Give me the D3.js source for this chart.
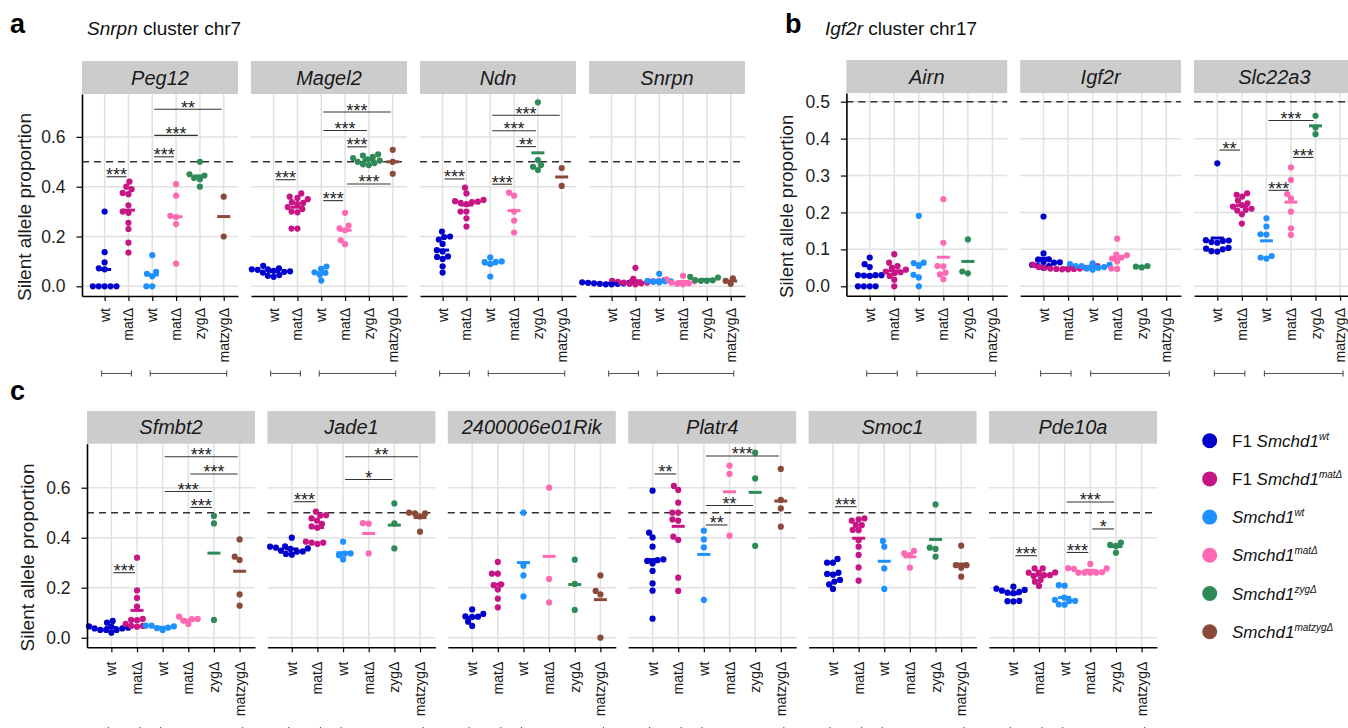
<!DOCTYPE html>
<html><head><meta charset="utf-8">
<script src="https://cdn.jsdelivr.net/npm/d3@7"></script>
<style>
body{margin:0;background:#fff}
svg{display:block}
text{font-family:"Liberation Sans",Arial,Helvetica,sans-serif}
</style></head>
<body><svg id="chart" width="1348" height="728"></svg>
<script>
// ---------------- DATA ----------------
const categories = ["wt", "matΔ", "wt", "matΔ", "zygΔ", "matzygΔ"];
const groupColors = ["#0000CD", "#C71585", "#1E90FF", "#FF69B4", "#2E8B57", "#8B4A39"];
const legendPrefix = ["F1 ", "F1 ", "", "", "", ""];
const legendSup = ["wt", "matΔ", "wt", "matΔ", "zygΔ", "matzygΔ"];
const ticksAC = [0, 0.2, 0.4, 0.6];
const ticksB = [0, 0.1, 0.2, 0.3, 0.4, 0.5];

const genesA = ["Peg12", "Magel2", "Ndn", "Snrpn"];
const genesB = ["Airn", "Igf2r", "Slc22a3"];
const genesC = ["Sfmbt2", "Jade1", "2400006e01Rik", "Platr4", "Smoc1", "Pde10a"];

// silent allele proportion per group: [F1 wt, F1 matΔ, wt, matΔ, zygΔ, matzygΔ]
const peg12 = [
  [0.30, 0.137, 0.096, 0.072, 0.068, 0, 0, 0, 0, 0],
  [0.42, 0.40, 0.39, 0.375, 0.37, 0.325, 0.30, 0.295, 0.255, 0.23, 0.175, 0.135],
  [0.125, 0.058, 0.05, 0.04, 0, 0],
  [0.41, 0.364, 0.283, 0.278, 0.25, 0.091],
  [0.50, 0.45, 0.445, 0.435, 0.43, 0.40],
  [0.36, 0.20]
];
const magel2 = [
  [0.072, 0.068, 0.066, 0.082, 0.06, 0.058, 0.045, 0.038, 0.042, 0.055, 0.062, 0.068],
  [0.373, 0.36, 0.355, 0.35, 0.338, 0.335, 0.33, 0.318, 0.31, 0.30, 0.297, 0.232, 0.232],
  [0.079, 0.07, 0.056, 0.054, 0.046, 0.023],
  [0.295, 0.244, 0.233, 0.225, 0.185, 0.169],
  [0.53, 0.525, 0.52, 0.515, 0.51, 0.505, 0.50, 0.495, 0.49, 0.487],
  [0.548, 0.50, 0.452]
];
const ndn = [
  [0.22, 0.20, 0.198, 0.188, 0.17, 0.145, 0.14, 0.12, 0.118, 0.11, 0.08, 0.055],
  [0.396, 0.373, 0.347, 0.342, 0.34, 0.338, 0.335, 0.33, 0.30, 0.30, 0.273, 0.24],
  [0.116, 0.10, 0.098, 0.097, 0.09, 0.039],
  [0.376, 0.364, 0.30, 0.264, 0.216],
  [0.739, 0.507, 0.487, 0.48, 0.467],
  [0.475, 0.403]
];
const snrpn = [
  [0.016, 0.014, 0.012, 0.01, 0.008, 0.008, 0.01, 0.012, 0.014, 0.015],
  [0.074, 0.03, 0.025, 0.022, 0.02, 0.018, 0.015, 0.012, 0.01, 0.008, 0.015, 0.02],
  [0.05, 0.022, 0.02, 0.018, 0.016, 0.02],
  [0.042, 0.028, 0.02, 0.015, 0.01, 0.008, 0.012],
  [0.038, 0.035, 0.025, 0.022, 0.022, 0.024],
  [0.032, 0.022, 0.01]
];
const airn = [
  [0.078, 0.06, 0.052, 0.03, 0.03, 0.029, 0.028, 0.03, 0, 0, 0, 0],
  [0.087, 0.064, 0.055, 0.05, 0.045, 0.04, 0.038, 0.036, 0.028, 0.018, 0],
  [0.191, 0.064, 0.063, 0.055, 0.031, 0.024, 0],
  [0.236, 0.118, 0.055, 0.054, 0.037, 0.032, 0.019],
  [0.127, 0.04, 0.035],
  []
];
const igf2r = [
  [0.189, 0.089, 0.073, 0.072, 0.066, 0.065, 0.064, 0.058, 0.055, 0.05, 0.055],
  [0.058, 0.055, 0.052, 0.05, 0.048, 0.047, 0.046, 0.046, 0.047, 0.048, 0.05, 0.052],
  [0.062, 0.06, 0.058, 0.055, 0.052, 0.05, 0.045, 0.048, 0.055],
  [0.129, 0.086, 0.084, 0.078, 0.075, 0.067, 0.048, 0.047],
  [0.055, 0.053, 0.051],
  []
];
const slc22a3 = [
  [0.333, 0.125, 0.124, 0.123, 0.12, 0.118, 0.104, 0.102, 0.1, 0.095, 0.094],
  [0.252, 0.248, 0.243, 0.232, 0.225, 0.22, 0.216, 0.21, 0.207, 0.205, 0.195, 0.17],
  [0.184, 0.162, 0.141, 0.14, 0.082, 0.078, 0.075],
  [0.322, 0.288, 0.25, 0.238, 0.202, 0.157, 0.139],
  [0.462, 0.43, 0.412],
  []
];
const sfmbt2 = [
  [0.044, 0.037, 0.031, 0.031, 0.06, 0.02, 0.067, 0.031, 0.037, 0.04, 0.045],
  [0.32, 0.189, 0.159, 0.124, 0.075, 0.055, 0.047, 0.044, 0.047, 0.071, 0.07],
  [0.048, 0.045, 0.031, 0.04, 0.048, 0.038],
  [0.084, 0.075, 0.074, 0.055, 0.068],
  [0.487, 0.457, 0.071],
  [0.393, 0.324, 0.311, 0.173, 0.128]
];
const jade1 = [
  [0.40, 0.364, 0.357, 0.344, 0.365, 0.345, 0.332, 0.348, 0.335, 0.355, 0.36],
  [0.504, 0.49, 0.488, 0.477, 0.468, 0.455, 0.445, 0.44, 0.384, 0.38, 0.375, 0.38],
  [0.384, 0.337, 0.336, 0.33, 0.313],
  [0.458, 0.456, 0.337],
  [0.537, 0.457, 0.357],
  [0.50, 0.497, 0.497, 0.485, 0.424]
];
const rik = [
  [0.113, 0.095, 0.085, 0.084, 0.083, 0.064, 0.047],
  [0.303, 0.256, 0.256, 0.213, 0.21, 0.193, 0.156, 0.121],
  [0.50, 0.288, 0.249, 0.165],
  [0.60, 0.235, 0.141],
  [0.312, 0.215, 0.111],
  [0.249, 0.187, 0.173, 0]
];
const platr4 = [
  [0.588, 0.42, 0.401, 0.364, 0.313, 0.31, 0.307, 0.297, 0.267, 0.217, 0.188, 0.076],
  [0.607, 0.591, 0.54, 0.50, 0.50, 0.473, 0.468, 0.404, 0.391, 0.24, 0.187],
  [0.428, 0.393, 0.361, 0.151],
  [0.688, 0.655, 0.408],
  [0.74, 0.637, 0.367],
  [0.675, 0.551, 0.517, 0.444]
];
const smoc1 = [
  [0.315, 0.30, 0.30, 0.26, 0.255, 0.252, 0.231, 0.224, 0.213, 0.195],
  [0.477, 0.473, 0.468, 0.451, 0.45, 0.431, 0.43, 0.39, 0.364, 0.331, 0.281, 0.228],
  [0.387, 0.364, 0.277, 0.195],
  [0.347, 0.337, 0.33, 0.28],
  [0.533, 0.36, 0.355, 0.324],
  [0.368, 0.29, 0.29, 0.28, 0.244]
];
const pde10a = [
  [0.204, 0.191, 0.183, 0.178, 0.18, 0.188, 0.196, 0.147, 0.145, 0.146],
  [0.277, 0.277, 0.261, 0.26, 0.26, 0.25, 0.247, 0.231, 0.224, 0.207, 0.25],
  [0.208, 0.21, 0.147, 0.147, 0.151, 0.132, 0.133, 0.16],
  [0.295, 0.278, 0.277, 0.275, 0.262, 0.26, 0.26, 0.26, 0.26],
  [0.38, 0.371, 0.367, 0.34],
  []
];

// significance bars: [group from, group to, bar height, label]
const peg12Sig = [[0,1,0.44,"***"],[2,3,0.52,"***"],[2,4,0.606,"***"],[2,5,0.711,"**"]];
const magel2Sig = [[0,1,0.428,"***"],[2,3,0.344,"***"],[3,4,0.56,"***"],[2,4,0.626,"***"],[2,5,0.70,"***"],[3,5,0.411,"***"]];
const ndnSig = [[0,1,0.431,"***"],[2,3,0.41,"***"],[3,4,0.561,"**"],[2,4,0.625,"***"],[2,5,0.687,"***"]];
const snrpnSig = [];
const airnSig = [];
const igf2rSig = [];
const slc22a3Sig = [[0,1,0.369,"**"],[2,3,0.26,"***"],[3,4,0.349,"***"],[2,4,0.449,"***"]];
const sfmbt2Sig = [[0,1,0.26,"***"],[3,4,0.521,"***"],[2,4,0.585,"***"],[3,5,0.655,"***"],[2,5,0.724,"***"]];
const jade1Sig = [[0,1,0.544,"***"],[2,4,0.633,"*"],[2,5,0.724,"**"]];
const rikSig = [];
const platr4Sig = [[0,1,0.655,"**"],[2,3,0.451,"**"],[2,4,0.529,"**"],[2,5,0.727,"***"]];
const smoc1Sig = [[0,1,0.524,"***"]];
const pde10aSig = [[0,1,0.328,"***"],[2,3,0.341,"***"],[3,4,0.435,"*"],[2,4,0.543,"***"]];

// ---------------- DRAWING ----------------
const svg = d3.select("#chart");
const FONT = '"Liberation Sans",Arial,Helvetica,sans-serif';

function swarm(values, yScale, d) {
  const pts = values.map(v => ({v, py: yScale(v), dx: 0}));
  const order = pts.slice().sort((a, b) => a.v - b.v);
  const placed = [];
  for (const p of order) {
    let cands = [0];
    for (const q of placed) {
      const dy = p.py - q.py;
      if (Math.abs(dy) < d) {
        const off = Math.sqrt(d * d - dy * dy);
        cands.push(q.dx + off, q.dx - off);
      }
    }
    cands = cands.filter(c => placed.every(q => (c - q.dx) ** 2 + (p.py - q.py) ** 2 >= d * d - 1e-6));
    cands.sort((a, b) => Math.abs(a) - Math.abs(b) || a - b);
    p.dx = cands[0];
    placed.push(p);
  }
  return pts;
}

function drawPanel(cfg) {
  const y = d3.scaleLinear().domain(cfg.domain).range([cfg.plotBottom, cfg.plotTop]);
  cfg.genes.forEach((gene, fi) => {
    const x0 = cfg.x0s[fi], w = cfg.width;
    const x = d3.scaleLinear().domain([-0.95, 5.6]).range([x0, x0 + w]);
    const g = svg.append("g");
    const data = cfg.data[fi];

    // grid
    g.selectAll(".hg").data(cfg.ticks).join("line")
      .attr("x1", x0).attr("x2", x0 + w)
      .attr("y1", d => y(d)).attr("y2", d => y(d))
      .attr("stroke", "#e1e1e1").attr("stroke-width", 1.5);
    g.selectAll(".vg").data(d3.range(6)).join("line")
      .attr("x1", d => x(d)).attr("x2", d => x(d))
      .attr("y1", cfg.plotTop).attr("y2", cfg.plotBottom)
      .attr("stroke", "#e1e1e1").attr("stroke-width", 1.5);

    // dashed 0.5
    g.append("line").attr("x1", x0).attr("x2", x0 + w)
      .attr("y1", y(0.5)).attr("y2", y(0.5))
      .attr("stroke", "#333").attr("stroke-width", 1.5).attr("stroke-dasharray", "7,5");

    // strip
    g.append("rect").attr("x", x0).attr("y", cfg.stripTop)
      .attr("width", w).attr("height", cfg.plotTop - cfg.stripTop).attr("fill", "#cccccc");
    g.append("text").attr("x", x0 + w / 2).attr("y", (cfg.stripTop + cfg.plotTop) / 2 + 7)
      .attr("text-anchor", "middle").attr("font-size", 20).attr("font-style", "italic")
      .attr("fill", "#1a1a1a").text(gene);

    // points
    data.forEach((vals, k) => {
      const pts = swarm(vals, y, 5.9);
      g.selectAll(null).data(pts).join("circle")
        .attr("cx", p => x(k) + p.dx).attr("cy", p => p.py).attr("r", 3.1)
        .attr("fill", groupColors[k]);
    });
    data.forEach((vals, k) => {
      if (!vals.length) return;
      const m = d3.mean(vals);
      g.append("line").attr("x1", x(k) - 6.5).attr("x2", x(k) + 6.5)
        .attr("y1", y(m)).attr("y2", y(m))
        .attr("stroke", groupColors[k]).attr("stroke-width", 3);
    });

    // significance bars
    cfg.sigs[fi].forEach(s => {
      const xa = x(s[0]) + 2, xb = x(s[1]) - 2;
      g.append("line").attr("x1", xa).attr("x2", xb).attr("y1", y(s[2])).attr("y2", y(s[2]))
        .attr("stroke", "#333").attr("stroke-width", 1.1);
      g.append("text").attr("x", (xa + xb) / 2).attr("y", y(s[2]) + 4.5)
        .attr("text-anchor", "middle").attr("font-size", 18).attr("fill", "#222").text(s[3]);
    });

    // bottom axis
    const ax = g.append("g").attr("transform", `translate(0,${cfg.plotBottom})`)
      .call(d3.axisBottom(x).tickValues(d3.range(6)).tickSize(5).tickSizeOuter(0)
        .tickFormat(i => categories[i]));
    ax.select(".domain").attr("stroke", "#000").attr("stroke-width", 1.6);
    ax.selectAll(".tick line").attr("stroke", "#000").attr("stroke-width", 1.2);
    ax.selectAll(".tick text").attr("transform", "rotate(-90)")
      .attr("x", -cfg.xLabGap).attr("y", 4.5).attr("dy", null)
      .attr("text-anchor", "end").attr("font-size", 14).attr("font-family", FONT).attr("fill", "#1a1a1a");

    // left axis on first facet
    if (fi === 0) {
      const ay = g.append("g").attr("transform", `translate(${x0},0)`)
        .call(d3.axisLeft(y).tickValues(cfg.ticks).tickSize(5.5).tickPadding(11).tickSizeOuter(0)
          .tickFormat(d3.format(".1f")));
      ay.select(".domain").attr("stroke", "#000").attr("stroke-width", 1.6);
      ay.selectAll(".tick line").attr("stroke", "#000").attr("stroke-width", 1.2);
      ay.selectAll(".tick text").attr("font-size", cfg.yTickSize).attr("font-family", FONT).attr("fill", "#222");
      svg.append("text")
        .attr("transform", `translate(${cfg.yLabelX},${(cfg.plotTop + cfg.plotBottom) / 2 + 12}) rotate(-90)`)
        .attr("text-anchor", "middle").attr("font-size", cfg.yLabSize).attr("fill", "#1a1a1a")
        .text("Silent allele proportion");
    }

    // bottom grouping brackets
    const br = [[x(0) - 3, x(1) + 3], [x(2) - 2, x(5) + 3]];
    br.forEach(b => {
      g.append("path")
        .attr("d", `M${b[0]},${cfg.bracketY - 3}V${cfg.bracketY + 3}M${b[0]},${cfg.bracketY}H${b[1]}M${b[1]},${cfg.bracketY - 3}V${cfg.bracketY + 3}`)
        .attr("stroke", "#555").attr("stroke-width", 1.1).attr("fill", "none");
    });
  });
}

drawPanel({
  genes: genesA, data: [peg12, magel2, ndn, snrpn], sigs: [peg12Sig, magel2Sig, ndnSig, snrpnSig],
  x0s: [82, 251, 420, 589], width: 156, stripTop: 61, plotTop: 94, plotBottom: 296,
  domain: [-0.039, 0.7723], ticks: ticksAC, yLabelX: 31, yLabSize: 19, yTickSize: 17.5,
  xLabGap: 12, bracketY: 373.5
});
drawPanel({
  genes: genesB, data: [airn, igf2r, slc22a3], sigs: [airnSig, igf2rSig, slc22a3Sig],
  x0s: [846.4, 1020.2, 1194], width: 160.8, stripTop: 60, plotTop: 93, plotBottom: 295.7,
  domain: [-0.0255, 0.5236], ticks: ticksB, yLabelX: 793, yLabSize: 18.5, yTickSize: 17.5,
  xLabGap: 12.3, bracketY: 373.5
});
drawPanel({
  genes: genesC, data: [sfmbt2, jade1, rik, platr4, smoc1, pde10a],
  sigs: [sfmbt2Sig, jade1Sig, rikSig, platr4Sig, smoc1Sig, pde10aSig],
  x0s: [87, 267.4, 447.8, 628.2, 808.6, 989], width: 168, stripTop: 411, plotTop: 443.7, plotBottom: 647.3,
  domain: [-0.0384, 0.776], ticks: ticksAC, yLabelX: 34, yLabSize: 19, yTickSize: 17.5,
  xLabGap: 14.4, bracketY: 730
});

// panel headings
function heading(letter, lx, italicPart, rest, tx, by) {
  svg.append("text").attr("x", lx).attr("y", by).attr("font-size", 27).attr("font-weight", "bold")
    .attr("fill", "#000").text(letter);
  if (italicPart !== null) {
    const t = svg.append("text").attr("x", tx).attr("y", by + 1.7).attr("font-size", 19).attr("fill", "#111");
    t.append("tspan").attr("font-style", "italic").text(italicPart);
    t.append("tspan").text(rest);
  }
}
heading("a", 10, "Snrpn", " cluster chr7", 87, 33.3);
heading("b", 785, "Igf2r", " cluster chr17", 825, 33.3);
heading("c", 10, null, null, 0, 400);

// legend
const leg = svg.append("g");
groupColors.forEach((c, i) => {
  const cy = 440.7 + i * 38.2;
  leg.append("circle").attr("cx", 1209.7).attr("cy", cy).attr("r", 7.5).attr("fill", c);
  const t = leg.append("text").attr("x", 1232).attr("y", cy + 6).attr("font-size", 17).attr("fill", "#111");
  if (legendPrefix[i]) t.append("tspan").text(legendPrefix[i]);
  t.append("tspan").attr("font-style", "italic").text("Smchd1");
  t.append("tspan").attr("font-style", "italic").attr("font-size", 10).attr("dy", -7).text(legendSup[i]);
});
</script>
</body></html>
